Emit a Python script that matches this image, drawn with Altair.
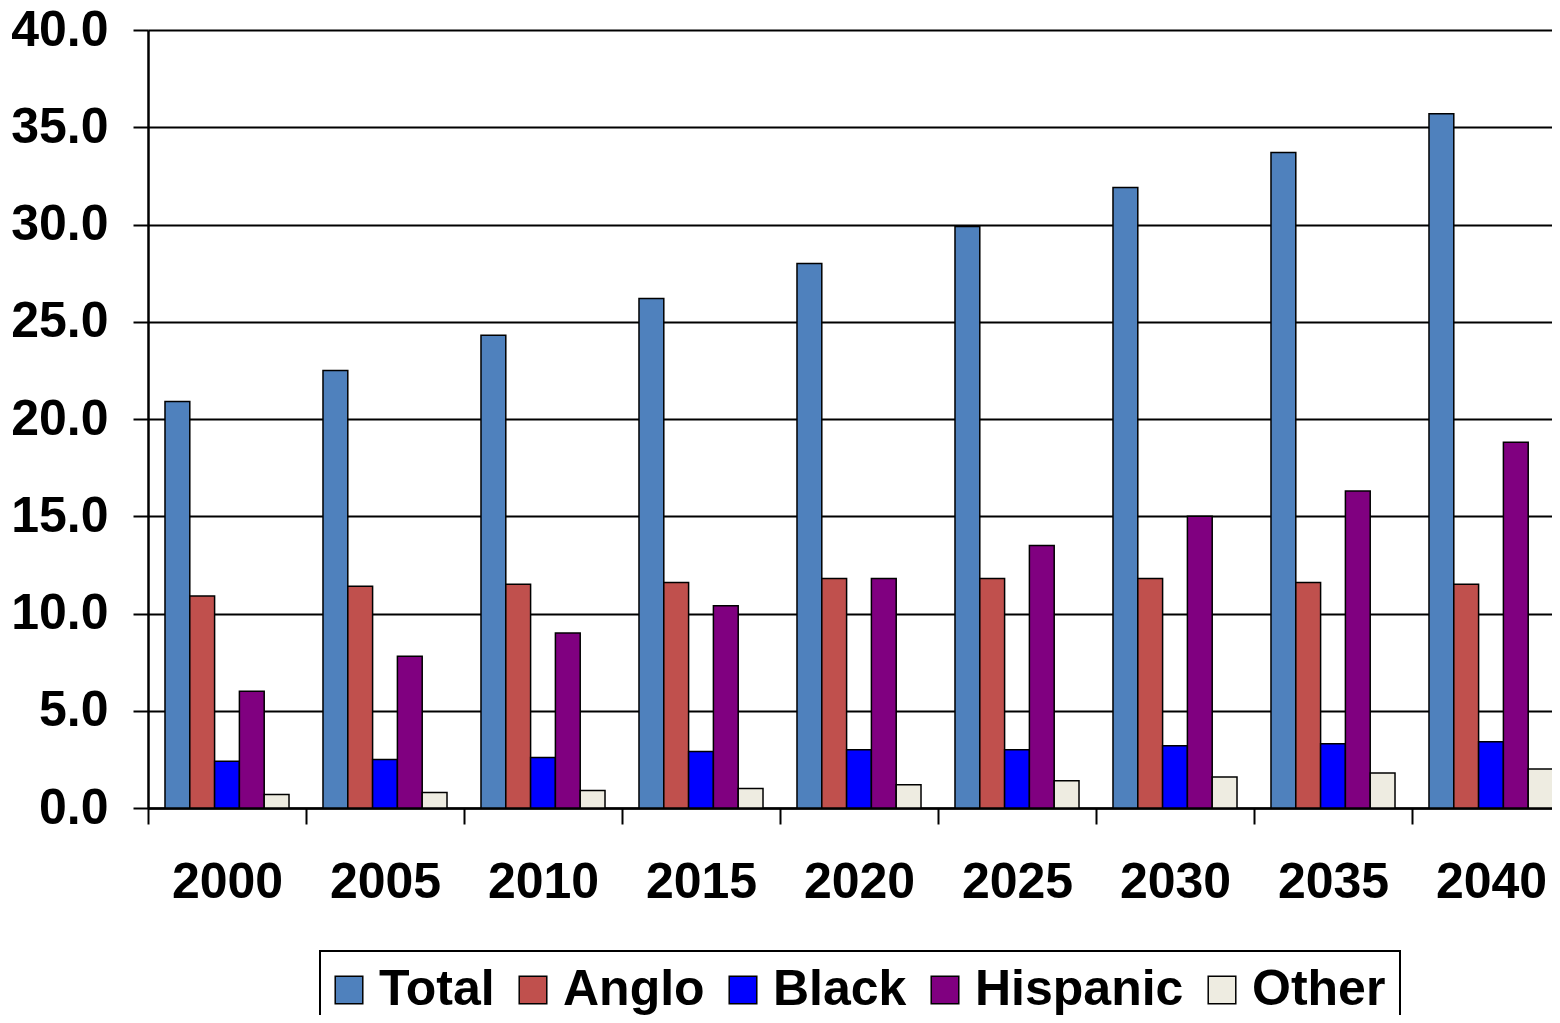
import altair as alt
import pandas as pd

years = ["2000", "2005", "2010", "2015", "2020", "2025", "2030", "2035", "2040"]
series = ["Total", "Anglo", "Black", "Hispanic", "Other"]
total = [20.9, 22.5, 24.3, 26.2, 28.0, 29.9, 31.9, 33.7, 35.7]
anglo = [10.9, 11.4, 11.5, 11.6, 11.8, 11.8, 11.8, 11.6, 11.5]
black = [2.4, 2.5, 2.6, 2.9, 3.0, 3.0, 3.2, 3.3, 3.4]
hispanic = [6.0, 7.8, 9.0, 10.4, 11.8, 13.5, 15.0, 16.3, 18.8]
other = [0.7, 0.8, 0.9, 1.0, 1.2, 1.4, 1.6, 1.8, 2.0]
colors = ["#4F81BD", "#C0504D", "#0000FF", "#800080", "#EEECE1"]
y_ticks = [0, 5, 10, 15, 20, 25, 30, 35, 40]

rows = []
for name, vals in zip(series, [total, anglo, black, hispanic, other]):
    for yr, v in zip(years, vals):
        rows.append({"Year": yr, "Series": name, "Value": v})
df = pd.DataFrame(rows)

FONT = "Liberation Sans"

chart = alt.Chart(df).mark_bar(stroke="black", strokeWidth=1.5).encode(
    x=alt.X(
        "Year:N",
        sort=years,
        scale=alt.Scale(range=[0, 1422], paddingInner=0, paddingOuter=0),
        axis=alt.Axis(
            title=None, labelAngle=0, tickBand="extent", grid=False,
            tickSize=16, tickColor="black", tickWidth=2,
            domainColor="black", domainWidth=2.5,
            labelFont=FONT, labelFontWeight="bold", labelFontSize=50,
            labelColor="black", labelPadding=33,
        ),
    ),
    xOffset=alt.XOffset("Series:N", sort=series,
                        scale=alt.Scale(paddingInner=0, paddingOuter=0.685)),
    y=alt.Y(
        "Value:Q",
        scale=alt.Scale(domain=[0, 40]),
        axis=alt.Axis(
            title=None, values=y_ticks, format=".1f",
            grid=True, gridColor="black", gridWidth=2, gridOpacity=1,
            tickSize=15, tickColor="black", tickWidth=2,
            domainColor="black", domainWidth=2.5,
            labelFont=FONT, labelFontWeight="bold", labelFontSize=50,
            labelColor="black", labelPadding=25,
        ),
    ),
    color=alt.Color(
        "Series:N",
        sort=series,
        scale=alt.Scale(domain=series, range=colors),
        legend=alt.Legend(
            title=None, orient="none", legendX=172, legendY=921,
            direction="horizontal",
            strokeColor="black", padding=14,
            symbolType="square", symbolSize=760, symbolOffset=-10,
            symbolStrokeColor="black", symbolStrokeWidth=1.5,
            labelFont=FONT, labelFontWeight="bold", labelFontSize=50,
            labelColor="black", labelOffset=5, columnPadding=21,
            labelLimit=400,
        ),
    ),
).properties(
    width=1404,
    height=778,
    autosize=alt.AutoSizeParams(type="none"),
    padding={"left": 140, "top": 22, "right": 0, "bottom": 207},
).configure_view(strokeWidth=0).configure_legend(strokeWidth=2)

chart.save("out.html", embed_options={"renderer": "svg", "actions": False})
